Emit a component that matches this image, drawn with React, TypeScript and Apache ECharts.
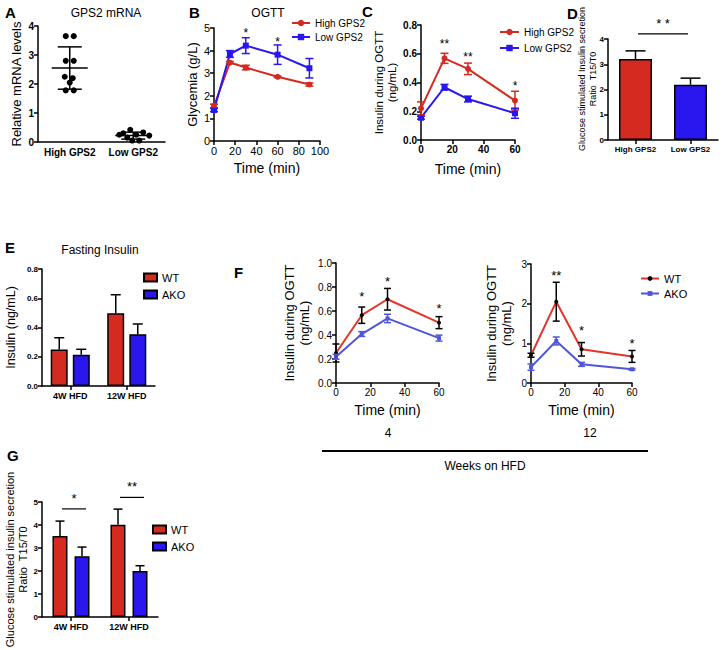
import React, { useEffect, useRef } from "react";
import * as echarts from "echarts";

const FF = "'Liberation Sans', Arial, sans-serif";
const RED = "#d42a1f";
const BLUE = "#2a17ef";
const FRED = "#e4352b";
const FBLUE = "#4f56d9";

// Panel A
const aCats = ["High GPS2", "Low GPS2"];
const aHigh = [3.65, 3.65, 2.8, 2.8, 2.25, 2.2, 2.05, 1.78, 1.78];
const aHighJit = [-4, 4, -4, 4, -5, 3, 0, -4, 4];
const aLow = [0.42, 0.33, 0.3, 0.25, 0.25, 0.22, 0.15, 0.05, 0.05];
const aLowJit = [-3, 10, -10, -14, 3, 16, -6, -1, 6];
const aMean = [2.55, 0.22];
const aSD = [0.73, 0.12];

// Panel B
const bTime = [0, 15, 30, 60, 90];
const bHigh = [1.55, 3.47, 3.25, 2.84, 2.5];
const bHighErr = [0.08, 0.05, 0.1, 0.03, 0.07];
const bLow = [1.37, 3.85, 4.22, 3.82, 3.22];
const bLowErr = [0.07, 0.15, 0.35, 0.43, 0.43];
const bStars = [[30, 4.78], [60, 4.4]];
const bStarText = ["*", "*"];

// Panel C
const cTime = [0, 15, 30, 60];
const cHigh = [0.22, 0.568, 0.495, 0.274];
const cHighErr = [0.045, 0.035, 0.04, 0.065];
const cLow = [0.155, 0.367, 0.285, 0.186];
const cLowErr = [0.01, 0.02, 0.02, 0.035];
const cStars = [[15, 0.665], [30, 0.58], [60, 0.378]];
const cStarText = ["**", "**", "*"];

// Panel D
const dCats = ["High GPS2", "Low GPS2"];
const dVals = [3.21, 2.19];
const dErr = [0.32, 0.26];
const dSig = [[0.5, 4.2]];
const dSigText = ["* *"];

// Panel E
const eCats = ["4W HFD", "12W HFD"];
const eWT = [0.25, 0.498];
const eWTErr = [0.08, 0.126];
const eAKO = [0.213, 0.354];
const eAKOErr = [0.038, 0.07];

// Panel F
const fTime = [0, 15, 30, 60];
const f4WT = [0.25, 0.565, 0.698, 0.503];
const f4WTErr = [0.075, 0.068, 0.09, 0.05];
const f4AKO = [0.218, 0.408, 0.538, 0.374];
const f4AKOErr = [0.02, 0.02, 0.035, 0.025];
const f4Stars = [[15, 0.72], [30, 0.85], [60, 0.62]];
const f4StarText = ["*", "*", "*"];
const f12WT = [0.7, 2.05, 0.85, 0.67];
const f12WTErr = [0.05, 0.49, 0.17, 0.15];
const f12AKO = [0.4, 1.06, 0.47, 0.345];
const f12AKOErr = [0.08, 0.1, 0.05, 0.02];
const f12Stars = [[15, 2.72], [30, 1.33], [60, 1.0]];
const f12StarText = ["**", "*", "*"];

// Panel G
const gCats = ["4W HFD", "12W HFD"];
const gWT = [3.52, 4.01];
const gWTErr = [0.65, 0.68];
const gAKO = [2.64, 2.0];
const gAKOErr = [0.4, 0.23];
const gSig = [[0, 4.7], [1, 5.2]];
const gSigText = ["*", "**"];

const zip3 = (x: any[], y: number[], e: number[]) => x.map((v, i) => [v, y[i], e[i]]);

function errBar(color: string, capW: number, offset = 0, upperOnly = false, lw = 1.5) {
  return (params: any, api: any) => {
    const x = api.value(0);
    const y = api.value(1);
    const e = api.value(2);
    const top = api.coord([x, y + e]);
    const bot = api.coord([x, upperOnly ? y : y - e]);
    const cx = top[0] + offset;
    const st = { stroke: color, lineWidth: lw };
    const children: any[] = [
      { type: "line", shape: { x1: cx, y1: top[1], x2: cx, y2: bot[1] }, style: st },
      { type: "line", shape: { x1: cx - capW / 2, y1: top[1], x2: cx + capW / 2, y2: top[1] }, style: st },
    ];
    if (!upperOnly) {
      children.push({ type: "line", shape: { x1: cx - capW / 2, y1: bot[1], x2: cx + capW / 2, y2: bot[1] }, style: st });
    }
    return { type: "group", children };
  };
}

function starRender(texts: string[], size = 12) {
  return (params: any, api: any) => {
    const p = api.coord([api.value(0), api.value(1)]);
    return {
      type: "text",
      x: p[0],
      y: p[1],
      style: { text: texts[params.dataIndex], fill: "#000", font: `${size}px ${FF}`, align: "center", verticalAlign: "middle" },
    };
  };
}

// significance bar: horizontal line centred on a (category) position with text above
function sigRender(texts: string[], halfW: number, offset: number, size: number) {
  return (params: any, api: any) => {
    const x = api.value(0);
    const fx = Math.floor(x);
    const p0 = api.coord([fx, api.value(1)]);
    let cx = p0[0];
    if (x !== fx) {
      const p1 = api.coord([fx + 1, api.value(1)]);
      cx = p0[0] + (p1[0] - p0[0]) * (x - fx);
    }
    cx += offset;
    return {
      type: "group",
      children: [
        { type: "line", shape: { x1: cx - halfW, y1: p0[1], x2: cx + halfW, y2: p0[1] }, style: { stroke: "#000", lineWidth: 1.2 } },
        {
          type: "text", x: cx, y: p0[1] - 4,
          style: { text: texts[params.dataIndex], font: `${size}px ${FF}`, fill: "#000", align: "center", verticalAlign: "bottom" },
        },
      ],
    };
  };
}

const axisLine = { show: true, lineStyle: { color: "#000", width: 1.5 } };
const axisTick = { show: true, length: 4, lineStyle: { color: "#000", width: 1.5 } };

function lbl(size: number, bold: boolean) {
  return { color: "#000", fontSize: size, fontWeight: bold ? "bold" : "normal", fontFamily: FF, margin: 4 };
}

function yAx(grid: number, max: number, interval: number, name: string, gap: number, nameSize: number, bold: boolean, lsize: number, fmt?: (v: number) => string) {
  return {
    type: "value",
    gridIndex: grid,
    min: 0,
    max,
    interval,
    axisLine,
    axisTick,
    splitLine: { show: false },
    axisLabel: { ...lbl(lsize, bold), formatter: fmt },
    name,
    nameLocation: "middle",
    nameGap: gap,
    nameTextStyle: { color: "#000", fontSize: nameSize, fontFamily: FF, lineHeight: nameSize + 2 },
  };
}

function xVal(grid: number, max: number, interval: number, name: string, gap: number, nameSize: number, bold: boolean, lsize: number) {
  return {
    type: "value",
    gridIndex: grid,
    min: 0,
    max,
    interval,
    axisLine: { ...axisLine, onZero: false },
    axisTick,
    splitLine: { show: false },
    axisLabel: lbl(lsize, bold),
    name,
    nameLocation: "middle",
    nameGap: gap,
    nameTextStyle: { color: "#000", fontSize: nameSize, fontFamily: FF },
  };
}

function xCat(grid: number, data: string[], lsize: number, ticks: boolean) {
  return {
    type: "category",
    gridIndex: grid,
    data,
    axisLine: { ...axisLine, onZero: false },
    axisTick: ticks ? { ...axisTick, alignWithLabel: true } : { show: false },
    axisLabel: { ...lbl(lsize, true), margin: 5, interval: 0 },
    splitLine: { show: false },
  };
}

function lineSeries(name: string, xi: number, data: any[], lineColor: string, markColor: string, symbol: string, size: number) {
  return {
    type: "line",
    name,
    xAxisIndex: xi,
    yAxisIndex: xi,
    data,
    symbol,
    symbolSize: size,
    lineStyle: { color: lineColor, width: 2 },
    itemStyle: { color: markColor },
    z: 3,
  };
}

function custom(xi: number, data: any[], renderItem: any, z = 4) {
  return { type: "custom", xAxisIndex: xi, yAxisIndex: xi, data, renderItem, z, silent: true };
}

const legendBase = {
  orient: "vertical",
  itemGap: 5,
  padding: 0,
  formatter: (n: string) => n.split("|")[0],
  textStyle: { color: "#000", fontSize: 11, fontFamily: FF },
};
const smallLegendText = { color: "#000", fontSize: 10, fontFamily: FF };

function panelText(x: number, y: number, text: string, size: number, bold = false, align = "left", rot = 0) {
  return {
    type: "text",
    x,
    y,
    rotation: rot,
    style: { text, font: `${bold ? "bold " : ""}${size}px ${FF}`, fill: "#000", align, verticalAlign: "middle" },
  };
}

export default function App() {
  const ref = useRef<HTMLDivElement>(null);
  useEffect(() => {
    if (!ref.current) return;
    const chart = echarts.init(ref.current, null, { renderer: "svg" });
    const option: any = {
      animation: false,
      textStyle: { fontFamily: FF },
      grid: [
        { left: 38, top: 26, width: 127, height: 116 }, // A
        { left: 214, top: 28, width: 106, height: 113 }, // B
        { left: 421, top: 25, width: 94, height: 115 }, // C
        { left: 608, top: 39, width: 110, height: 101 }, // D
        { left: 42, top: 269, width: 113, height: 117 }, // E
        { left: 336, top: 263, width: 103, height: 120 }, // F4
        { left: 531, top: 264, width: 101, height: 119 }, // F12
        { left: 42, top: 502, width: 116, height: 115 }, // G
      ],
      xAxis: [
        xCat(0, aCats, 10, false),
        xVal(1, 100, 20, "Time (min)", 20, 14, false, 11),
        xVal(2, 60, 20, "Time (min)", 22, 14, true, 10),
        xCat(3, dCats, 8, true),
        xCat(4, eCats, 9, true),
        xVal(5, 60, 20, "Time (min)", 20, 14, false, 10),
        xVal(6, 60, 20, "Time (min)", 20, 14, false, 10),
        xCat(7, gCats, 9, true),
      ],
      yAxis: [
        yAx(0, 4, 1, "Relative mRNA levels", 14, 13, true, 10),
        yAx(1, 5, 1, "Glycemia (g/L)", 11, 13, false, 11),
        yAx(2, 0.8, 0.2, "Insulin during OGTT\n(ng/mL)", 19, 11.5, true, 10, (v: number) => v.toFixed(1)),
        yAx(3, 4, 1, "", 8, 9, true, 8),
        yAx(4, 0.8, 0.2, "Insulin (ng/mL)", 24, 12.5, true, 8, (v: number) => v.toFixed(1)),
        yAx(5, 1, 0.2, "Insulin during OGTT\n(ng/mL)", 24, 13, false, 10, (v: number) => v.toFixed(1)),
        yAx(6, 3, 1, "Insulin during OGTT\n(ng/mL)", 17, 13, false, 10),
        yAx(7, 5, 1, "Glucose stimulated insulin secretion\nRatio  T15/T0", 10, 11, true, 8),
      ],
      legend: [
        { ...legendBase, left: 291, top: 18, itemGap: 4, itemWidth: 18, itemHeight: 8, textStyle: smallLegendText, data: ["High GPS2|B", "Low GPS2|B"] },
        { ...legendBase, left: 499, top: 27, itemGap: 6, itemWidth: 19, itemHeight: 8, textStyle: smallLegendText, data: ["High GPS2|C", "Low GPS2|C"] },
        { ...legendBase, left: 143, top: 272, itemGap: 6, itemWidth: 13, itemHeight: 8, icon: "rect", data: ["WT|E", "AKO|E"] },
        { ...legendBase, left: 640, top: 273, itemGap: 4, itemWidth: 18, itemHeight: 6, data: ["WT|F", "AKO|F"] },
        { ...legendBase, left: 152, top: 524, itemGap: 6, itemWidth: 13, itemHeight: 8, icon: "rect", data: ["WT|G", "AKO|G"] },
      ],
      series: [
        // A
        custom(0, aHigh.map((v, i) => [0, v, aHighJit[i]]).concat(aLow.map((v, i) => [1, v, aLowJit[i]])), (params: any, api: any) => {
          const p = api.coord([api.value(0), api.value(1)]);
          return { type: "circle", shape: { cx: p[0] + api.value(2), cy: p[1], r: 3 }, style: { fill: "#000" } };
        }),
        custom(0, zip3([0, 1], aMean, aSD), (params: any, api: any) => {
          const x = api.value(0), m = api.value(1), s = api.value(2);
          const pm = api.coord([x, m]);
          const pt = api.coord([x, m + s]);
          const pb = api.coord([x, m - s]);
          const st = { stroke: "#000", lineWidth: 1.5 };
          const cx = pm[0];
          return {
            type: "group",
            children: [
              { type: "line", shape: { x1: cx, y1: pt[1], x2: cx, y2: pb[1] }, style: st },
              { type: "line", shape: { x1: cx - 18, y1: pm[1], x2: cx + 18, y2: pm[1] }, style: st },
              { type: "line", shape: { x1: cx - 12, y1: pt[1], x2: cx + 12, y2: pt[1] }, style: st },
              { type: "line", shape: { x1: cx - 12, y1: pb[1], x2: cx + 12, y2: pb[1] }, style: st },
            ],
          };
        }, 5),
        // B
        lineSeries("High GPS2|B", 1, bTime.map((t, i) => [t, bHigh[i]]), RED, RED, "circle", 6),
        lineSeries("Low GPS2|B", 1, bTime.map((t, i) => [t, bLow[i]]), BLUE, BLUE, "rect", 6),
        custom(1, zip3(bTime, bHigh, bHighErr), errBar(RED, 8)),
        custom(1, zip3(bTime, bLow, bLowErr), errBar(BLUE, 8)),
        custom(1, bStars, starRender(bStarText, 12)),
        // C
        lineSeries("High GPS2|C", 2, cTime.map((t, i) => [t, cHigh[i]]), RED, RED, "circle", 6),
        lineSeries("Low GPS2|C", 2, cTime.map((t, i) => [t, cLow[i]]), BLUE, BLUE, "rect", 6),
        custom(2, zip3(cTime, cHigh, cHighErr), errBar(RED, 8)),
        custom(2, zip3(cTime, cLow, cLowErr), errBar(BLUE, 8)),
        custom(2, cStars, starRender(cStarText, 12)),
        // D
        {
          type: "bar",
          xAxisIndex: 3,
          yAxisIndex: 3,
          barWidth: 33,
          data: dVals.map((v, i) => ({ value: v, itemStyle: { color: i === 0 ? RED : BLUE } })),
          itemStyle: { borderColor: "#000", borderWidth: 1.5 },
        },
        custom(3, zip3([0, 1], dVals, dErr), errBar("#000", 20, 0, true)),
        custom(3, dSig, sigRender(dSigText, 25, 0, 13)),
        // E
        {
          type: "bar", name: "WT|E", xAxisIndex: 4, yAxisIndex: 4, barWidth: 17, barGap: "30%", data: eWT,
          itemStyle: { color: RED, borderColor: "#000", borderWidth: 1.5 },
        },
        {
          type: "bar", name: "AKO|E", xAxisIndex: 4, yAxisIndex: 4, barWidth: 17, barGap: "30%", data: eAKO,
          itemStyle: { color: BLUE, borderColor: "#000", borderWidth: 1.5 },
        },
        custom(4, zip3([0, 1], eWT, eWTErr), errBar("#000", 10, -11, true)),
        custom(4, zip3([0, 1], eAKO, eAKOErr), errBar("#000", 10, 11, true)),
        // F 4 weeks
        lineSeries("WT|F4", 5, fTime.map((t, i) => [t, f4WT[i]]), FRED, "#000", "circle", 4),
        lineSeries("AKO|F4", 5, fTime.map((t, i) => [t, f4AKO[i]]), FBLUE, FBLUE, "rect", 4),
        custom(5, zip3(fTime, f4WT, f4WTErr), errBar("#000", 7)),
        custom(5, zip3(fTime, f4AKO, f4AKOErr), errBar(FBLUE, 7)),
        custom(5, f4Stars, starRender(f4StarText, 13)),
        // F 12 weeks
        lineSeries("WT|F", 6, fTime.map((t, i) => [t, f12WT[i]]), FRED, "#000", "circle", 4),
        lineSeries("AKO|F", 6, fTime.map((t, i) => [t, f12AKO[i]]), FBLUE, FBLUE, "rect", 4),
        custom(6, zip3(fTime, f12WT, f12WTErr), errBar("#000", 7)),
        custom(6, zip3(fTime, f12AKO, f12AKOErr), errBar(FBLUE, 7)),
        custom(6, f12Stars, starRender(f12StarText, 13)),
        // G
        {
          type: "bar", name: "WT|G", xAxisIndex: 7, yAxisIndex: 7, barWidth: 15, barGap: "47%", data: gWT,
          itemStyle: { color: RED, borderColor: "#000", borderWidth: 1.5 },
        },
        {
          type: "bar", name: "AKO|G", xAxisIndex: 7, yAxisIndex: 7, barWidth: 15, barGap: "47%", data: gAKO,
          itemStyle: { color: BLUE, borderColor: "#000", borderWidth: 1.5 },
        },
        custom(7, zip3([0, 1], gWT, gWTErr), errBar("#000", 9, -11, true)),
        custom(7, zip3([0, 1], gAKO, gAKOErr), errBar("#000", 9, 11, true)),
        custom(7, gSig, sigRender(gSigText, 12, 3, 13)),
      ],
      graphic: [
        panelText(5, 12, "A", 15, true),
        panelText(189, 12, "B", 15, true),
        panelText(362, 11, "C", 15, true),
        panelText(567, 13, "D", 15, true),
        panelText(5, 247, "E", 15, true),
        panelText(234, 272, "F", 15, true),
        panelText(7, 455, "G", 15, true),
        panelText(106, 13, "GPS2 mRNA", 12, false, "center"),
        panelText(268, 13, "OGTT", 12, false, "center"),
        panelText(100, 250, "Fasting Insulin", 12, false, "center"),
        panelText(582, 79, "Glucose stimulated Insulin secretion", 9, false, "center", Math.PI / 2),
        panelText(593, 79, "Ratio  T15/T0", 9, false, "center", Math.PI / 2),
        { type: "line", shape: { x1: 322, y1: 451, x2: 648, y2: 451 }, style: { stroke: "#000", lineWidth: 2 } },
        panelText(388, 433, "4", 12, false, "center"),
        panelText(590, 433, "12", 12, false, "center"),
        panelText(485, 466, "Weeks on HFD", 12, false, "center"),
      ],
    };
    chart.setOption(option);
    return () => chart.dispose();
  }, []);
  return <div ref={ref} style={{ position: "absolute", left: 0, top: 0, width: 722, height: 650, background: "#fff" }} />;
}
